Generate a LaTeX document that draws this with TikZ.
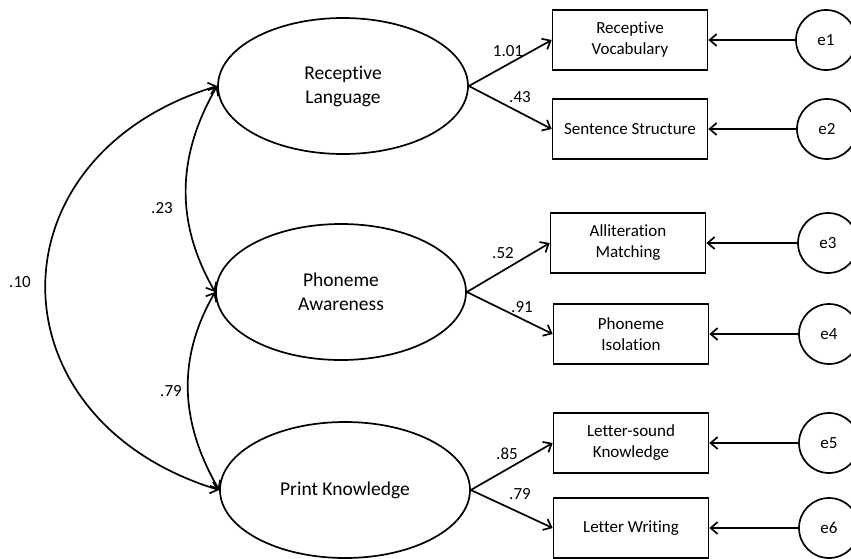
\documentclass[tikz,border=0pt]{standalone}
\usepackage{fontspec}
\setmainfont[Ligatures=NoCommon]{Carlito}
\usetikzlibrary{shapes.geometric,arrows.meta}
\begin{document}
\begin{tikzpicture}[x=1pt,y=1pt,
  latent/.style={ellipse,draw,line width=1.7pt,minimum width=250pt,minimum height=136pt,
    inner sep=0pt,align=center,font=\fontsize{19.5}{24}\selectfont},
  observed/.style={rectangle,draw,line width=1.7pt,minimum width=155pt,minimum height=60pt,
    inner sep=0pt,align=center,font=\fontsize{17}{21}\selectfont},
  errterm/.style={circle,draw,line width=1.7pt,minimum size=60pt,inner sep=0pt,
    font=\fontsize{17}{21}\selectfont},
  coef/.style={inner sep=0pt,font=\fontsize{17}{21}\selectfont},
  barb/.tip={Straight Barb[length=7pt,width=12pt]},
  loading/.style={line width=1.7pt,-barb},
  covar/.style={line width=1.7pt,barb-barb},
]
\useasboundingbox (0,0) rectangle (851,-558);

% latent factors
\node[latent] (rl) at (343,-86)  {Receptive\\Language};
\node[latent] (pa) at (341,-292) {Phoneme\\Awareness};
\node[latent] (pk) at (345,-490) {Print Knowledge};

% indicators
\node[observed] (rv) at (630,-40)  {Receptive\\Vocabulary};
\node[observed] (ss) at (630,-129) {Sentence Structure};
\node[observed] (am) at (628,-243) {Alliteration\\Matching};
\node[observed] (pi) at (631,-334) {Phoneme\\Isolation};
\node[observed] (lk) at (631,-443) {Letter-sound\\Knowledge};
\node[observed] (lw) at (631,-528) {Letter Writing};

% residuals
\node[errterm] (e1) at (826,-40)  {e1};
\node[errterm] (e2) at (827,-129) {e2};
\node[errterm] (e3) at (828,-243) {e3};
\node[errterm] (e4) at (829,-334) {e4};
\node[errterm] (e5) at (829,-443) {e5};
\node[errterm] (e6) at (829,-528) {e6};

% factor loadings
\draw[loading] (rl.east) -- (rv.west);
\draw[loading] (rl.east) -- (ss.west);
\draw[loading] (pa.east) -- (am.west);
\draw[loading] (pa.east) -- (pi.west);
\draw[loading] (pk.east) -- (lk.west);
\draw[loading] (pk.east) -- (lw.west);

\node[coef] (l1) at (508,-51)  {1.01};
\node[coef] (l2) at (520,-97)  {.43};
\node[coef] (l3) at (503,-253) {.52};
\node[coef] (l4) at (522,-307) {.91};
\node[coef] (l5) at (507,-454) {.85};
\node[coef] (l6) at (520,-494) {.79};

% residual paths
\draw[loading] (e1.west) -- (rv.east);
\draw[loading] (e2.west) -- (ss.east);
\draw[loading] (e3.west) -- (am.east);
\draw[loading] (e4.west) -- (pi.east);
\draw[loading] (e5.west) -- (lk.east);
\draw[loading] (e6.west) -- (lw.east);

% factor covariances
\draw[covar] (rl.west) to[out=240,in=120] (pa.west);
\draw[covar] (pa.west) to[out=240,in=120] (pk.west);
\draw[covar] (rl.west) to[out=197,in=163,looseness=1.52] (pk.west);

\node[coef] (c1) at (162,-208) {.23};
\node[coef] (c2) at (171,-391) {.79};
\node[coef] (c3) at (20,-282)  {.10};
\end{tikzpicture}
\end{document}
